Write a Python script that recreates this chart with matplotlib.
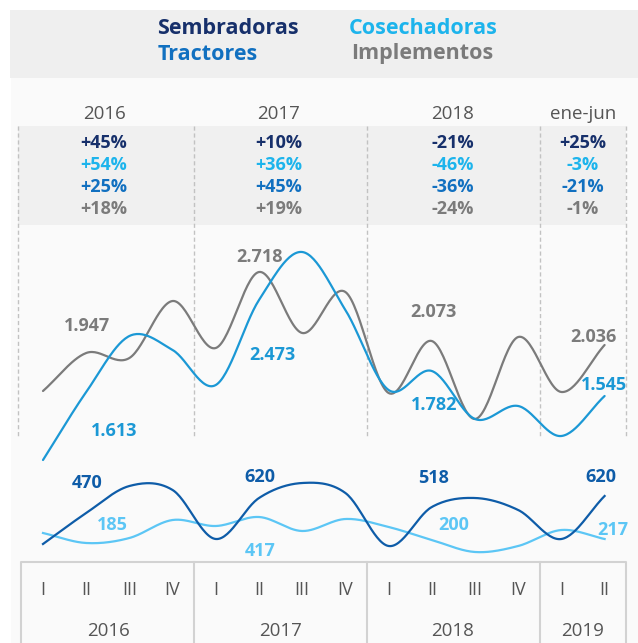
import numpy as np
import matplotlib
matplotlib.use("Agg")
import matplotlib.pyplot as plt
from matplotlib.patches import Rectangle

plt.rcParams['font.family'] = ['Open Sans', 'DejaVu Sans']

# ============================
# Datos (trimestres 2016-I .. 2019-II)
# ============================
trimestres = ['I', 'II', 'III', 'IV'] * 3 + ['I', 'II']
anios = ['2016', '2017', '2018', '2019']
cabecera = ['2016', '2017', '2018', 'ene-jun']

series = ['Sembradoras', 'Cosechadoras', 'Tractores', 'Implementos']
var_sembradoras = ['+45%', '+10%', '-21%', '+25%']
var_cosechadoras = ['+54%', '+36%', '-46%', '-3%']
var_tractores = ['+25%', '+45%', '-36%', '-21%']
var_implementos = ['+18%', '+19%', '-24%', '-1%']

# panel superior
implementos = [1790, 2170, 2120, 2690, 2220, 2980, 2370, 2780, 1770, 2290, 1510, 2330, 1780, 2250]
tractores = [1100, 1780, 2340, 2200, 1850, 2700, 3180, 2600, 1800, 1990, 1510, 1640, 1340, 1740]
# panel inferior
sembradoras = [180, 335, 470, 450, 205, 410, 485, 435, 170, 365, 410, 350, 205, 420]
cosechadoras = [235, 185, 210, 300, 270, 315, 245, 305, 265, 200, 140, 170, 250, 205]

et_implementos = ['1.947', '2.718', '2.073', '2.036']
et_tractores = ['1.613', '2.473', '1.782', '1.545']
et_sembradoras = ['470', '620', '518', '620']
et_cosechadoras = ['185', '417', '200', '217']

# colores
C_SEMB = '#17306b'
C_COSE = '#1db4ec'
C_TRAC = '#1170c0'
C_IMPL = '#7b7b7b'
C_LINE_TRAC = '#1b98d5'
C_LINE_SEMB = '#0e5ca8'
C_LINE_COSE = '#5cc6f5'
C_TXT = '#555555'

W, H = 638, 643


def catmull(y, n=30):
    # curva suave que pasa por los puntos (cardinal, tension 0)
    y = np.asarray(y, float)
    p = np.concatenate([[2 * y[0] - y[1]], y, [2 * y[-1] - y[-2]]])
    xs, ys = [], []
    t = np.linspace(0, 1, n, endpoint=False)
    for i in range(len(y) - 1):
        p0, p1, p2, p3 = p[i], p[i + 1], p[i + 2], p[i + 3]
        yy = 0.5 * ((2 * p1) + (-p0 + p2) * t + (2 * p0 - 5 * p1 + 4 * p2 - p3) * t ** 2
                    + (-p0 + 3 * p1 - 3 * p2 + p3) * t ** 3)
        xs.append(i + t)
        ys.append(yy)
    xs.append([len(y) - 1])
    ys.append([y[-1]])
    return np.concatenate(xs), np.concatenate(ys)


def px_axes(fig, x0, y0, x1, y1):
    # caja en pixeles (y hacia abajo)
    return fig.add_axes([x0 / W, 1 - y1 / H, (x1 - x0) / W, (y1 - y0) / H])


fig = plt.figure(figsize=(W / 100, H / 100), dpi=100)
fig.patch.set_facecolor('white')

# ============================
# fondo / decoracion en pixeles
# ============================
bg = px_axes(fig, 0, 0, W, H)
bg.set_xlim(0, W)
bg.set_ylim(H, 0)
bg.axis('off')
bg.add_patch(Rectangle((11, 78), W, H, color='#fafafa', lw=0))
bg.add_patch(Rectangle((10, 10), W, 68, color='#efefef', lw=0))
bg.add_patch(Rectangle((18, 126), 608, 99, color='#f0f0f0', lw=0))

for xv in [18, 194, 367, 540, 626]:
    bg.plot([xv, xv], [126, 437], color='#c2c2c2', lw=1, ls=(0, (3, 2)))

# leyenda
bg.text(157, 29, series[0], color=C_SEMB, fontsize=15.5, fontweight='bold', ha='left', va='center')
bg.text(349, 29, series[1], color=C_COSE, fontsize=15.5, fontweight='bold', ha='left', va='center')
bg.text(158, 54, series[2], color=C_TRAC, fontsize=15.5, fontweight='bold', ha='left', va='center')
bg.text(351, 54, series[3], color=C_IMPL, fontsize=15.5, fontweight='bold', ha='left', va='center')

# tabla de variaciones
col_x = [104, 279, 453, 583]
for i, cx in enumerate(col_x):
    bg.text(cx, 114, cabecera[i], color=C_TXT, fontsize=13.5, ha='center', va='center')
    bg.text(cx, 143, var_sembradoras[i], color=C_SEMB, fontsize=13, fontweight='bold', ha='center', va='center')
    bg.text(cx, 165, var_cosechadoras[i], color=C_COSE, fontsize=13, fontweight='bold', ha='center', va='center')
    bg.text(cx, 187, var_tractores[i], color=C_TRAC, fontsize=13, fontweight='bold', ha='center', va='center')
    bg.text(cx, 209, var_implementos[i], color=C_IMPL, fontsize=13, fontweight='bold', ha='center', va='center')

# eje inferior (caja)
x_left, x_right = 21.4, 626.2
q_px = 43 + 43.2 * np.arange(len(trimestres))
bg.plot([x_left, x_left, x_right, x_right], [H + 5, 562, 562, H + 5], color='#d2d2d2', lw=1.5)
for xv in [194.2, 367, 539.8]:
    bg.plot([xv, xv], [562, H + 5], color='#d2d2d2', lw=1.5)
for xq, q in zip(q_px, trimestres):
    bg.text(xq, 590, q, color=C_TXT, fontsize=13, ha='center', va='center')
for xa, a in zip([108, 281, 453, 583], anios):
    bg.text(xa, 631, a, color=C_TXT, fontsize=13.5, ha='center', va='center')

# ============================
# panel superior: tractores / implementos
# ============================
ax1 = px_axes(fig, x_left, 225, x_right, 470)
ax1.set_xlim(-0.5, 13.5)
ax1.set_ylim(1000, 3450)
ax1.axis('off')
ax1.patch.set_alpha(0)
xs, ys = catmull(implementos)
ax1.plot(xs, ys, color=C_IMPL, lw=1.6, solid_capstyle='round')
xs, ys = catmull(tractores)
ax1.plot(xs, ys, color=C_LINE_TRAC, lw=1.6, solid_capstyle='round')

pos_impl = [(1.02, 2440), (5.02, 3130), (9.03, 2580), (12.75, 2330)]
pos_trac = [(1.64, 1390), (5.3, 2150), (9.05, 1650), (12.99, 1850)]
for (x, y), t in zip(pos_impl, et_implementos):
    ax1.text(x, y, t, color=C_IMPL, fontsize=13, fontweight='bold', ha='center', va='center')
for (x, y), t in zip(pos_trac, et_tractores):
    ax1.text(x, y, t, color=C_LINE_TRAC, fontsize=13, fontweight='bold', ha='center', va='center')

# ============================
# panel inferior: sembradoras / cosechadoras
# ============================
ax2 = px_axes(fig, x_left, 440, x_right, 580)
ax2.set_xlim(-0.5, 13.5)
ax2.set_ylim(0, 700)
ax2.axis('off')
ax2.patch.set_alpha(0)
xs, ys = catmull(cosechadoras)
ax2.plot(xs, ys, color=C_LINE_COSE, lw=1.6)
xs, ys = catmull(sembradoras)
ax2.plot(xs, ys, color=C_LINE_SEMB, lw=1.6)

pos_semb = [(1.02, 485), (5.02, 515), (9.03, 510), (12.92, 515)]
pos_cose = [(1.6, 275), (5.02, 145), (9.51, 275), (13.2, 250)]
for (x, y), t in zip(pos_semb, et_sembradoras):
    ax2.text(x, y, t, color=C_LINE_SEMB, fontsize=13, fontweight='bold', ha='center', va='center')
for (x, y), t in zip(pos_cose, et_cosechadoras):
    ax2.text(x, y, t, color=C_LINE_COSE, fontsize=13, fontweight='bold', ha='center', va='center')

plt.savefig('out.png', dpi=100, facecolor=fig.get_facecolor())
